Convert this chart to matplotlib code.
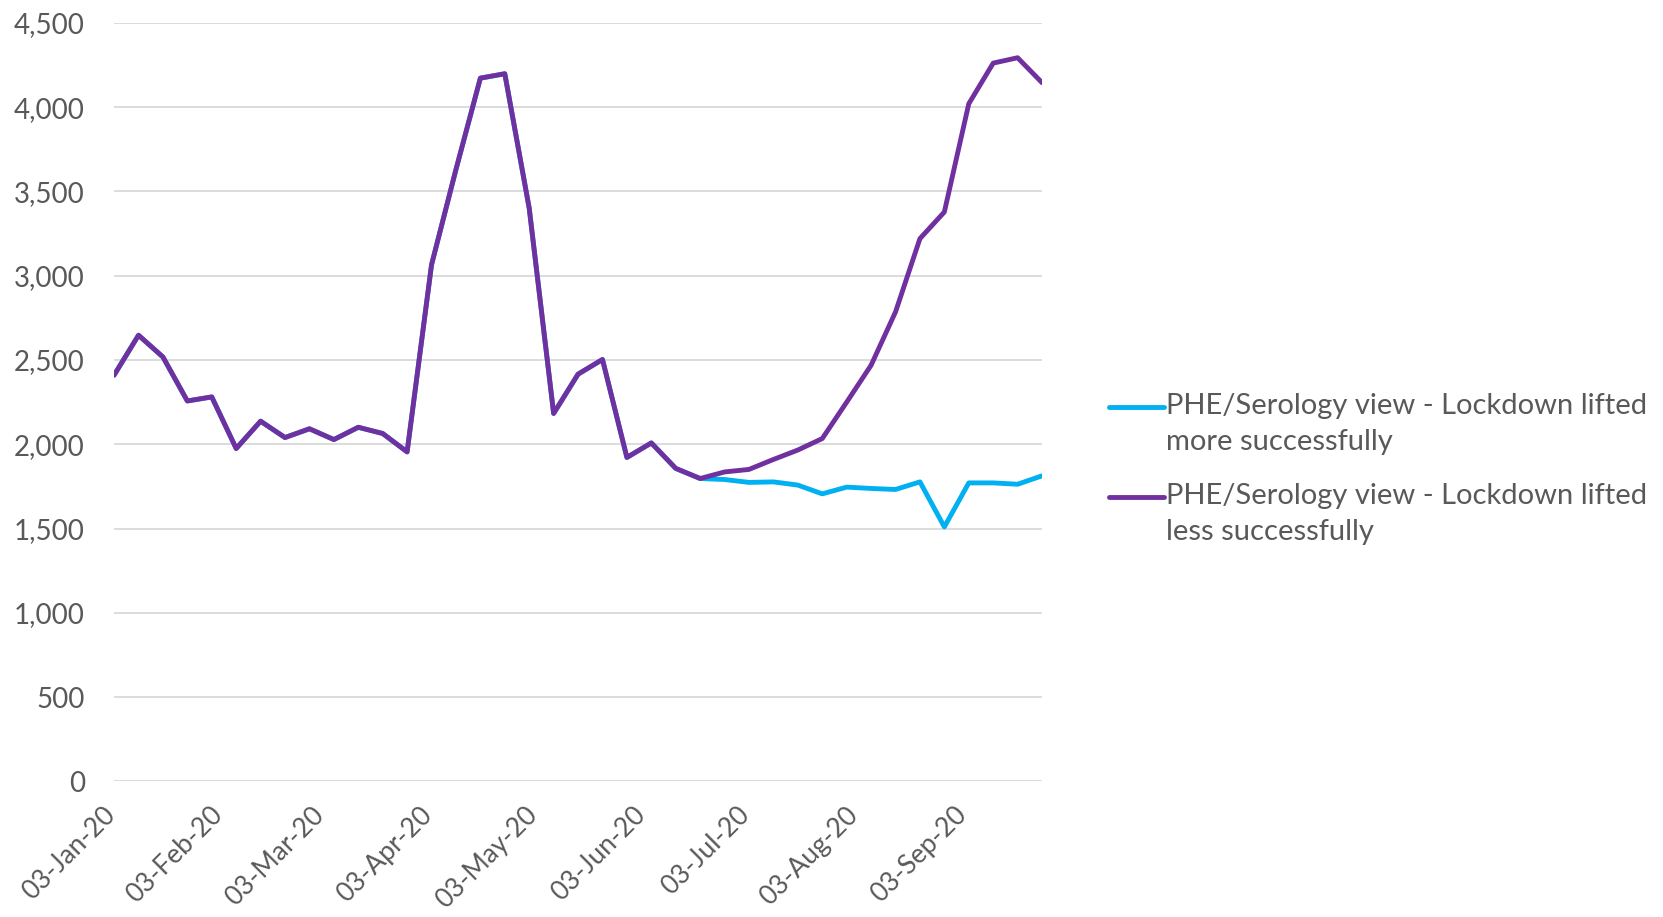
import matplotlib
matplotlib.use("Agg")
import matplotlib.pyplot as plt
import matplotlib.dates as mdates
import matplotlib.transforms as mtransforms
from matplotlib.legend_handler import HandlerLine2D
import pandas as pd

# weekly series, starting 03-Jan-2020
start_date = "2020-01-03"
n_weeks = 39

less_successful = [
    2410, 2647, 2518, 2257, 2281, 1975, 2137, 2040, 2092, 2028,
    2101, 2064, 1955, 3065, 3630, 4172, 4198, 3400, 2183, 2416,
    2503, 1922, 2008, 1857, 1797, 1836, 1851, 1910, 1966, 2034,
    2250, 2469, 2785, 3220, 3378, 4020, 4261, 4293, 4145,
]
more_successful = [
    2410, 2647, 2518, 2257, 2281, 1975, 2137, 2040, 2092, 2028,
    2101, 2064, 1955, 3065, 3630, 4172, 4198, 3400, 2183, 2416,
    2503, 1922, 2008, 1857, 1797, 1791, 1774, 1777, 1758, 1706,
    1746, 1738, 1732, 1777, 1510, 1771, 1771, 1763, 1813,
]
labels = [
    "PHE/Serology view - Lockdown lifted\nmore successfully",
    "PHE/Serology view - Lockdown lifted\nless successfully",
]
colors = ["#00B0F0", "#7030A0"]

dates = pd.date_range(start_date, periods=n_weeks, freq="7D")

txt = "#595959"
plt.rcParams["font.family"] = ["Lato", "DejaVu Sans"]

fig = plt.figure(figsize=(16.63, 9.17), dpi=100)
ax = fig.add_axes([0.0686, 0.1478, 0.558, 0.8273])

ax.plot(dates, more_successful, color=colors[0], lw=3.5, label=labels[0],
        solid_joinstyle="round", solid_capstyle="round", zorder=3)
ax.plot(dates, less_successful, color=colors[1], lw=3.5, label=labels[1],
        solid_joinstyle="round", solid_capstyle="round", zorder=4)

ax.set_ylim(0, 4500)
ax.set_yticks(range(0, 4501, 500))
ax.yaxis.set_major_formatter(matplotlib.ticker.FuncFormatter(lambda v, p: f"{int(v):,}"))
ax.set_xlim(dates[0], dates[-1])
ax.xaxis.set_major_locator(mdates.MonthLocator(bymonthday=3))
ax.xaxis.set_major_formatter(mdates.DateFormatter("%d-%b-%y"))

ax.grid(axis="y", color="#D9D9D9", lw=1.3)
ax.set_axisbelow(True)
for s in ax.spines.values():
    s.set_visible(False)
ax.tick_params(axis="both", length=0, colors=txt)
ax.tick_params(axis="y", pad=21, labelsize=20)
ax.tick_params(axis="x", pad=15, labelsize=19)
shift = mtransforms.ScaledTranslation(6 / 100, 0, fig.dpi_scale_trans)
for lbl in ax.get_xticklabels():
    lbl.set_rotation(45)
    lbl.set_ha("right")
    lbl.set_transform(lbl.get_transform() + shift)


# legend swatch sits level with the first line of its two-line label
def raise_handle(legline, orig):
    legline.update_from(orig)
    legline.set_ydata(legline.get_ydata() + 12.5)


leg = fig.legend(loc="center left", bbox_to_anchor=(0.658, 0.4885), frameon=False,
                 fontsize=21, labelcolor=txt, handlelength=1.9, handletextpad=0.05,
                 labelspacing=0.95, borderpad=0,
                 handler_map={plt.Line2D: HandlerLine2D(update_func=raise_handle)})
for t in leg.get_texts():
    t.set_linespacing(1.5)
for h in leg.get_lines():
    h.set_linewidth(3.5)

fig.savefig("out.png", dpi=100, facecolor="white")
